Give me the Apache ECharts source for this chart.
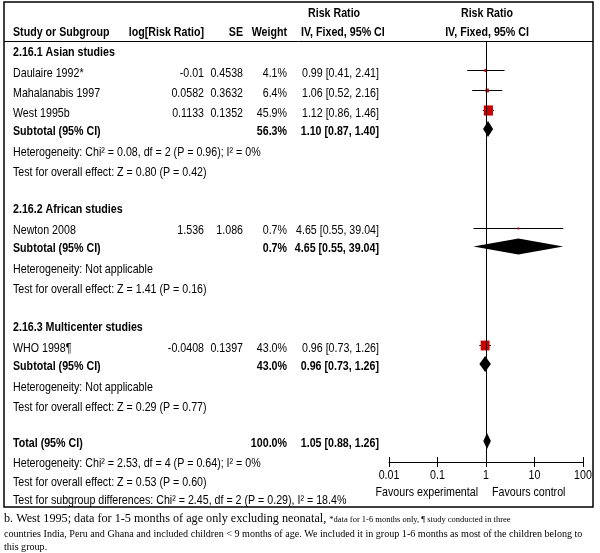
<!DOCTYPE html>
<html><head><meta charset="utf-8">
<script src="https://cdn.jsdelivr.net/npm/echarts@6/dist/echarts.min.js"></script>
<style>html,body{margin:0;padding:0;background:#fff}#c{width:600px;height:553px}</style>
</head><body><div id="c"></div>
<script>
// ---------- data ----------
const groupTitles = ['2.16.1 Asian studies', '2.16.2 African studies', '2.16.3 Multicenter studies'];
const studyNames = ['Daulaire 1992*', 'Mahalanabis 1997', 'West 1995b', 'Newton 2008', 'WHO 1998¶'];
const studyGroup = [0, 0, 0, 1, 2];
const logRRText = ['-0.01', '0.0582', '0.1133', '1.536', '-0.0408'];
const seText = ['0.4538', '0.3632', '0.1352', '1.086', '0.1397'];
const studyWeight = [4.1, 6.4, 45.9, 0.7, 43.0];
const studyRR = [0.99, 1.06, 1.12, 4.65, 0.96];
const studyLo = [0.41, 0.52, 0.86, 0.55, 0.73];
const studyHi = [2.41, 2.16, 1.46, 39.04, 1.26];
const subWeight = [56.3, 0.7, 43.0];
const subRR = [1.10, 4.65, 0.96];
const subLo = [0.87, 0.55, 0.73];
const subHi = [1.40, 39.04, 1.26];
const subHet = ['Heterogeneity: Chi² = 0.08, df = 2 (P = 0.96); I² = 0%', 'Heterogeneity: Not applicable', 'Heterogeneity: Not applicable'];
const subEffect = ['Test for overall effect: Z = 0.80 (P = 0.42)', 'Test for overall effect: Z = 1.41 (P = 0.16)', 'Test for overall effect: Z = 0.29 (P = 0.77)'];
const totalWeight = 100.0;
const totalRR = 1.05, totalLo = 0.88, totalHi = 1.26;
const totalHet = 'Heterogeneity: Chi² = 2.53, df = 4 (P = 0.64); I² = 0%';
const totalEffect = 'Test for overall effect: Z = 0.53 (P = 0.60)';
const subgroupTest = 'Test for subgroup differences: Chi² = 2.45, df = 2 (P = 0.29), I² = 18.4%';
const xTicks = [0.01, 0.1, 1, 10, 100];
const favourLeft = 'Favours experimental', favourRight = 'Favours control';
const footBig = 'b. West 1995; data for 1-5 months of age only excluding neonatal, ';
const footSmall = '*data for 1-6 months only, ¶ study conducted in three';
const footLine2 = 'countries India, Peru and Ghana and included children < 9 months of age. We included it in group 1-6 months as most of the children belong to';
const footLine3 = 'this group.';

// ---------- layout ----------
const SANS = "'Liberation Sans',Arial,sans-serif";
const SERIF = "'Liberation Serif','Times New Roman',serif";
const FS = 13, NARROW_SCALE = 0.82;
const fmtCI = (r, l, h) => r.toFixed(2) + ' [' + l.toFixed(2) + ', ' + h.toFixed(2) + ']';

// row offsets (pixels below the header rule)
const rows = [];
let off = 11;
groupTitles.forEach((gt, gi) => {
  if (gi > 0) off += 37.5;
  rows.push({kind: 'group', gi, off});
  off += 21;
  let first = true;
  studyNames.forEach((n, i) => {
    if (studyGroup[i] !== gi) return;
    if (!first) off += 20;
    first = false;
    rows.push({kind: 'study', i, off});
  });
  off += 18; rows.push({kind: 'sub', gi, off});
  off += 21; rows.push({kind: 'het', text: subHet[gi], off});
  off += 20; rows.push({kind: 'eff', text: subEffect[gi], off});
});
off += 36; rows.push({kind: 'total', off});
off += 20; rows.push({kind: 'het', text: totalHet, off});
off += 19; rows.push({kind: 'eff', text: totalEffect, off});
off += 18; rows.push({kind: 'eff', text: subgroupTest, off});

const studyData = [], diamondData = [];
rows.forEach(r => {
  if (r.kind === 'study') studyData.push([studyRR[r.i], studyLo[r.i], studyHi[r.i], studyWeight[r.i], r.off]);
  if (r.kind === 'sub') diamondData.push([subRR[r.gi], subLo[r.gi], subHi[r.gi], r.off]);
  if (r.kind === 'total') diamondData.push([totalRR, totalLo, totalHi, r.off]);
});

const MARK_DY = -3;
const chart = echarts.init(document.getElementById('c'), null, {renderer: 'canvas'});
const option = {
  backgroundColor: '#fff',
  animation: false,
  grid: {left: 389, right: 17, top: 41, bottom: 91, containLabel: false},
  xAxis: [{
    type: 'log', logBase: 10, min: xTicks[0], max: xTicks[xTicks.length - 1],
    position: 'bottom',
    axisLine: {show: true, onZero: false, lineStyle: {color: '#000', width: 1}},
    axisTick: {show: true, length: 5, lineStyle: {color: '#000', width: 1}},
    axisLabel: {show: false},
    splitLine: {show: false}
  }, {
    type: 'log', logBase: 10, min: xTicks[0], max: xTicks[xTicks.length - 1],
    position: 'bottom',
    axisLine: {show: false, onZero: false},
    axisTick: {show: true, inside: true, length: 5, lineStyle: {color: '#000', width: 1}},
    axisLabel: {show: false}, splitLine: {show: false}
  }],
  yAxis: {type: 'value', min: 0, max: 421, inverse: true, show: false},
  series: [{
    type: 'custom', xAxisIndex: 0,
    data: studyData,
    encode: {x: [0, 1, 2], y: 4},
    renderItem: (params, api) => {
      const y = api.value(4);
      const pL = api.coord([api.value(1), y]);
      const pH = api.coord([api.value(2), y]);
      const pM = api.coord([api.value(0), y]);
      const yy = Math.round(pM[1] + MARK_DY) + 0.5;
      const s = Math.max(2, 1.5 * Math.sqrt(api.value(3)));
      return {type: 'group', children: [
        {type: 'line', shape: {x1: pL[0], y1: yy, x2: pH[0], y2: yy}, style: {stroke: '#000', lineWidth: 1}},
        {type: 'rect', shape: {x: pM[0] - s * 0.45, y: yy - s / 2, width: s * 0.9, height: s}, style: {fill: '#cc0000'}}
      ]};
    },
    markLine: {silent: true, symbol: 'none', label: {show: false}, animation: false,
      lineStyle: {color: '#000', width: 1, type: 'solid'}, data: [{xAxis: 1}]}
  }, {
    type: 'custom', xAxisIndex: 0,
    data: diamondData,
    encode: {x: [0, 1, 2], y: 3},
    renderItem: (params, api) => {
      const y = api.value(3);
      const pL = api.coord([api.value(1), y]);
      const pH = api.coord([api.value(2), y]);
      const pM = api.coord([api.value(0), y]);
      const yy = pM[1] + MARK_DY + 1;
      const h = 8;
      return {type: 'polygon', shape: {points: [[pL[0], yy], [pM[0], yy - h], [pH[0], yy], [pM[0], yy + h]]},
        style: {fill: '#000'}};
    }
  }]
};
chart.setOption(option);

// ---------- table text (Arial-Narrow look: Liberation Sans compressed horizontally) ----------
const g = [];
const txt = (text, x, y, align, bold) => g.push({
  type: 'text', silent: true, x, y, scaleX: NARROW_SCALE, scaleY: 1,
  style: {text, x: 0, y: 0, fill: '#000', font: (bold ? 'bold ' : '') + FS + 'px ' + SANS,
    textAlign: align || 'left', textVerticalAlign: 'middle', verticalAlign: 'middle'}
});
const rowY = o => chart.convertToPixel({yAxisIndex: 0}, o);

const COL_NAME = 13, COL_LOG = 204, COL_SE = 243, COL_W = 287, COL_CI = 379;
// frame
g.push({type: 'rect', silent: true, shape: {x: 4, y: 2, width: 589, height: 505},
  style: {fill: 'none', stroke: '#000', lineWidth: 1.5}});
g.push({type: 'line', silent: true, shape: {x1: 4, y1: 41.5, x2: 593, y2: 41.5},
  style: {stroke: '#000', lineWidth: 1}});
// headers
txt('Risk Ratio', 308, 13, 'left', true);
txt('Risk Ratio', 487, 13, 'center', true);
txt('Study or Subgroup', COL_NAME, 32, 'left', true);
txt('log[Risk Ratio]', COL_LOG, 32, 'right', true);
txt('SE', COL_SE, 32, 'right', true);
txt('Weight', COL_W, 32, 'right', true);
txt('IV, Fixed, 95% CI', 301, 32, 'left', true);
txt('IV, Fixed, 95% CI', 487, 32, 'center', true);

rows.forEach(r => {
  const y = rowY(r.off);
  if (r.kind === 'group') txt(groupTitles[r.gi], COL_NAME, y, 'left', true);
  if (r.kind === 'study') {
    const i = r.i;
    txt(studyNames[i], COL_NAME, y, 'left');
    txt(logRRText[i], COL_LOG, y, 'right');
    txt(seText[i], COL_SE, y, 'right');
    txt(studyWeight[i].toFixed(1) + '%', COL_W, y, 'right');
    txt(fmtCI(studyRR[i], studyLo[i], studyHi[i]), COL_CI, y, 'right');
  }
  if (r.kind === 'sub') {
    txt('Subtotal (95% CI)', COL_NAME, y, 'left', true);
    txt(subWeight[r.gi].toFixed(1) + '%', COL_W, y, 'right', true);
    txt(fmtCI(subRR[r.gi], subLo[r.gi], subHi[r.gi]), COL_CI, y, 'right', true);
  }
  if (r.kind === 'total') {
    txt('Total (95% CI)', COL_NAME, y, 'left', true);
    txt(totalWeight.toFixed(1) + '%', COL_W, y, 'right', true);
    txt(fmtCI(totalRR, totalLo, totalHi), COL_CI, y, 'right', true);
  }
  if (r.kind === 'het' || r.kind === 'eff') txt(r.text, COL_NAME, y, 'left');
});

// x tick labels placed through the axis scale
const axisY = chart.convertToPixel({yAxisIndex: 0}, 421);
xTicks.forEach(v => {
  const px = chart.convertToPixel({xAxisIndex: 0}, v);
  txt(String(v), px, axisY + 13.5, 'center');
});
// favours labels
txt(favourLeft, 478, axisY + 30.5, 'right');
txt(favourRight, 492, axisY + 30.5, 'left');

// footnote
const mc = document.createElement('canvas').getContext('2d');
const BIG = 12.2;
mc.font = BIG + 'px ' + SERIF;
const wBig = mc.measureText(footBig).width;
const foot = (text, x, y, size) => g.push({type: 'text', silent: true,
  style: {text, x, y, fill: '#000', font: size + 'px ' + SERIF, textAlign: 'left', textVerticalAlign: 'bottom', verticalAlign: 'bottom'}});
foot(footBig, 4, 525, BIG);
foot(footSmall, 4 + wBig, 524, 8.5);
foot(footLine2, 4, 539, 10.1);
foot(footLine3, 4, 552, 10.1);

chart.setOption({graphic: g});
</script></body></html>
